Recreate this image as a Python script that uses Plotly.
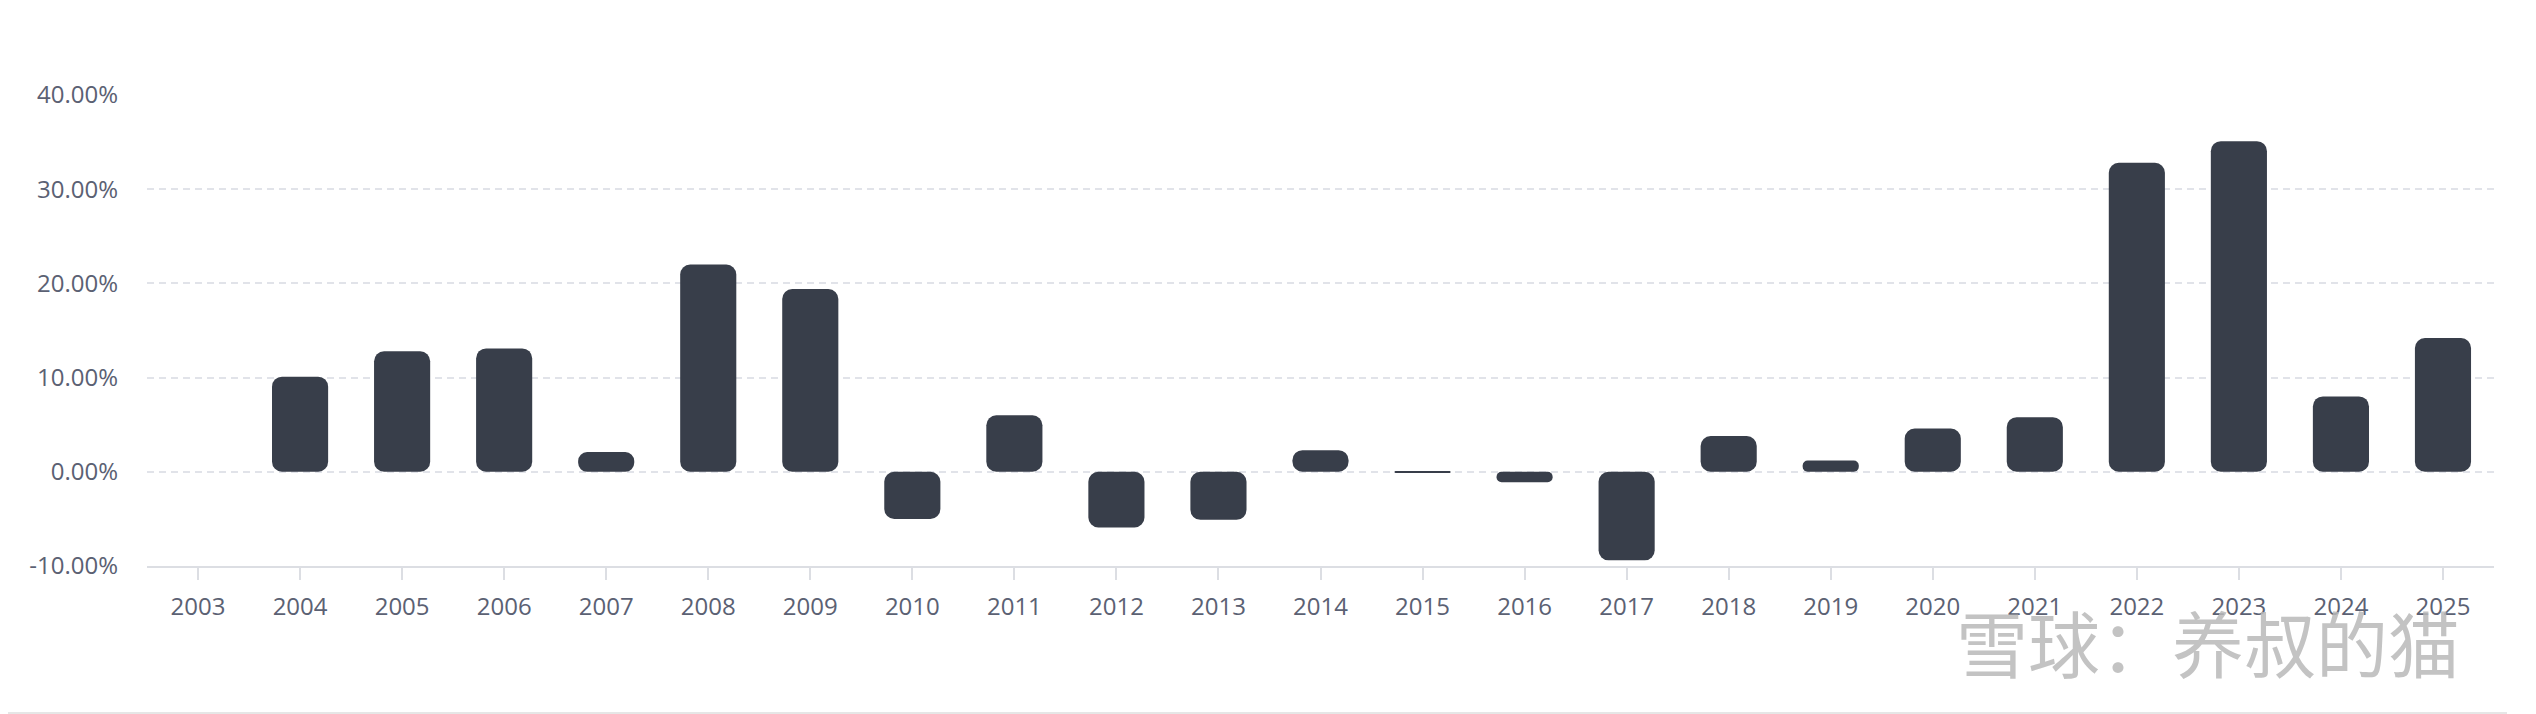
import plotly.graph_objects as go

# ---- data ----
years = [str(y) for y in range(2003, 2026)]
returns_pct = [None, 10.1, 12.8, 13.1, 2.1, 22.0, 19.4, -5.0, 6.0, -5.9, -5.1, 2.3,
               -0.1, -1.1, -9.4, 3.8, 1.2, 4.6, 5.8, 32.8, 35.1, 8.0, 14.2]
y_tick_vals = [-10, 0, 10, 20, 30, 40]
y_tick_text = ["-10.00%", "0.00%", "10.00%", "20.00%", "30.00%", "40.00%"]
watermark = "雪球：养叔的猫"

BAR = "#383e4a"
TXT = "#5b6173"
GRID = "#e1e3e9"
AXIS = "#dcdee3"

base0 = [0 for _ in returns_pct]

fig = go.Figure()
fig.add_trace(go.Bar(
    x=years, y=returns_pct, base=base0,
    marker=dict(color=BAR, line=dict(width=0), cornerradius=10),
    hoverinfo="skip", showlegend=False,
))

W, H = 2536, 714
L, R, T, B = 139, 50, 87, 156
PW, PH = W - L - R, H - T - B

fig.update_layout(
    width=W, height=H,
    margin=dict(l=L, r=R, t=T, b=B, pad=0),
    paper_bgcolor="white", plot_bgcolor="white",
    barmode="overlay", bargap=0.45,
    font=dict(family="Open Sans, Lato, sans-serif", size=24, color=TXT),
    xaxis=dict(
        type="category", categoryorder="array", categoryarray=years,
        showgrid=False, zeroline=False,
        showline=True, linecolor=AXIS, linewidth=2,
        ticks="outside", ticklen=12, tickwidth=2, tickcolor=AXIS,
        tickfont=dict(size=24, color=TXT), ticklabelstandoff=6,
    ),
    yaxis=dict(
        range=[-10, 40], tickvals=y_tick_vals, ticktext=y_tick_text,
        showgrid=True, gridcolor=GRID, gridwidth=1.5, griddash="7px,5px",
        zeroline=False, showline=False, ticks="",
        tickfont=dict(size=24, color=TXT), ticklabelstandoff=28,
    ),
    annotations=[dict(
        text=watermark, xref="paper", yref="paper",
        x=(2462 - 8 - L) / PW, y=(H - B - (640 - 8)) / PH,
        xanchor="right", yanchor="middle", showarrow=False,
        font=dict(family="Noto Sans CJK SC", size=72, color="rgba(185,185,185,0.85)"),
    )],
    shapes=[dict(
        type="line", xref="paper", yref="paper",
        x0=-L / PW, x1=(2507 - 8 - L) / PW,
        y0=(H - B - 705) / PH, y1=(H - B - 705) / PH,
        line=dict(color="#e6e6e6", width=2),
    )],
)

fig.write_html("out.html")
